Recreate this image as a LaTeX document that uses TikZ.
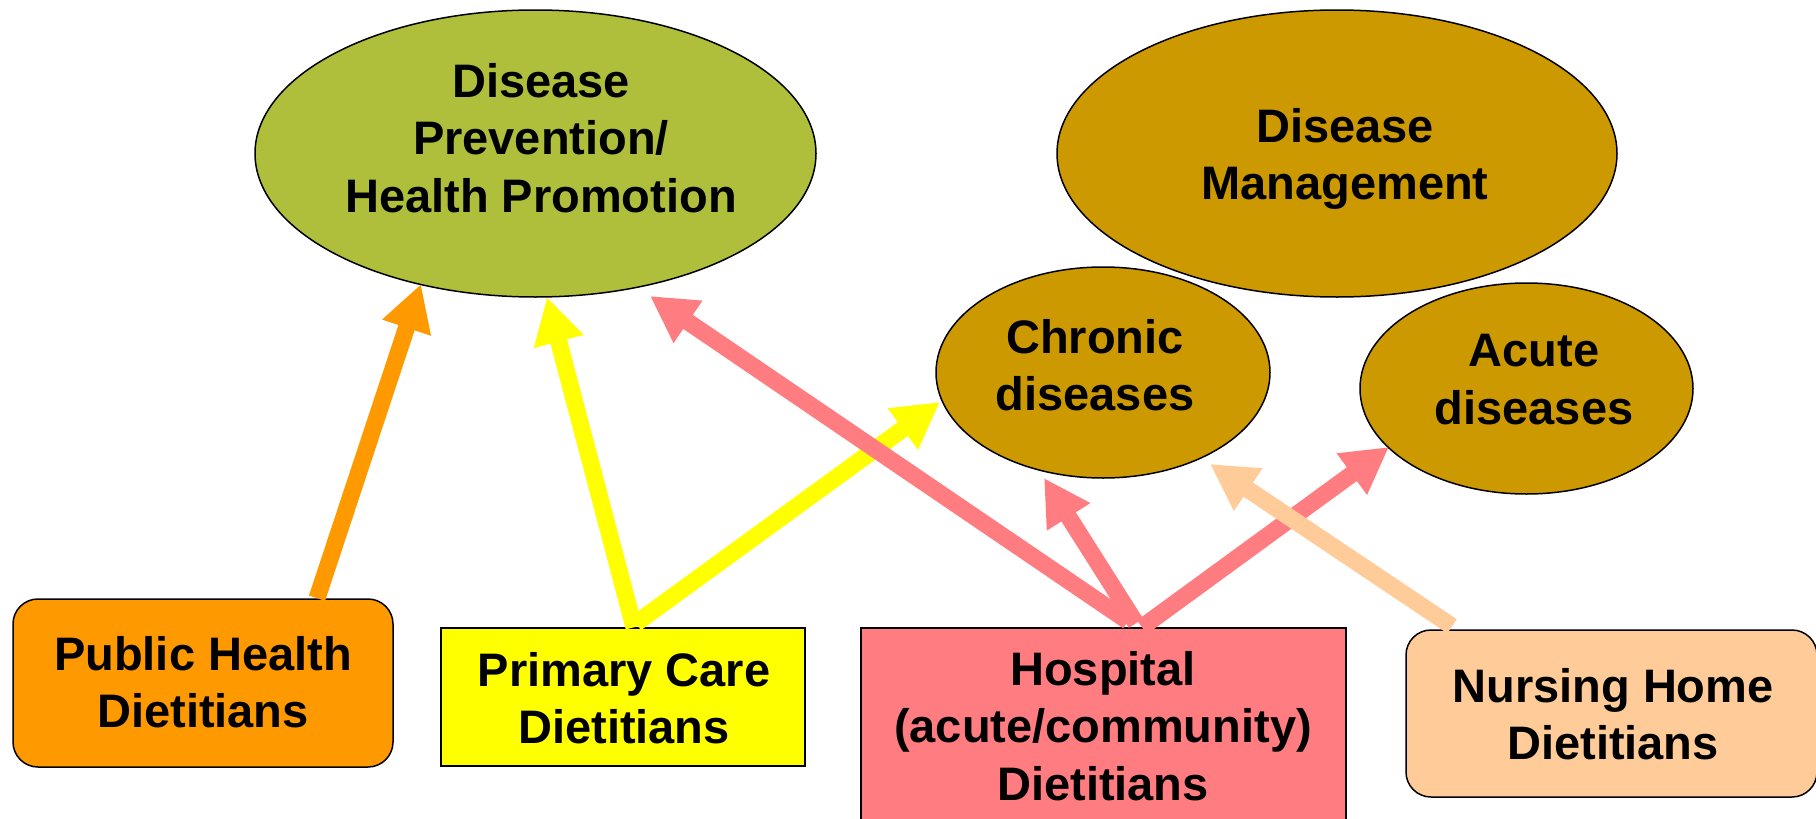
\documentclass[tikz,border=0pt]{standalone}
\usepackage{fontspec}
\setmainfont{Liberation Sans}
\usetikzlibrary{arrows.meta,shapes.geometric,calc}
\definecolor{cgreen}{HTML}{AFBF3B}
\definecolor{cgold}{HTML}{CC9900}
\definecolor{corange}{HTML}{FF9900}
\definecolor{cyellow}{HTML}{FFFF00}
\definecolor{cpink}{HTML}{FF7C80}
\definecolor{cpeach}{HTML}{FFCC99}
\tikzset{
  ell/.style={ellipse, draw=black, line width=1.5pt, inner sep=0pt},
  boxr/.style={rectangle, draw=black, line width=1.5pt, inner sep=0pt},
  lbl/.style={anchor=north, inner sep=0pt, align=center,
    font=\fontsize{47}{57.5}\selectfont\bfseries},
  fat/.style={line width=17pt, -{Triangle[width=48pt,length=46pt]}}
}
\begin{document}
\begin{tikzpicture}[x=1pt,y=-1pt]
\useasboundingbox (0,0) rectangle (1816,819);
% ellipses
\node[ell, fill=cgreen, minimum width=561pt, minimum height=287pt] (prev) at (535.5,153.5) {};
\node[ell, fill=cgold, minimum width=560pt, minimum height=287pt] (dm) at (1337,153.5) {};
\node[ell, fill=cgold, minimum width=334pt, minimum height=211pt] (chr) at (1103,372.5) {};
\node[ell, fill=cgold, minimum width=333pt, minimum height=211pt] (acu) at (1526.5,388.5) {};
% boxes
\node[boxr, fill=corange, rounded corners=25pt, minimum width=380pt, minimum height=168pt] (pub) at (203,683) {};
\node[boxr, fill=cyellow, minimum width=364pt, minimum height=138pt] (prim) at (623,697) {};
\node[boxr, fill=cpink, minimum width=485pt, minimum height=212pt] (hosp) at (1103.5,734) {};
\node[boxr, fill=cpeach, rounded corners=25pt, minimum width=411pt, minimum height=167pt] (nurs) at (1611.5,713.5) {};
% labels
\node[lbl] (prevT) at (541,63) {Disease\\Prevention/\\Health Promotion};
\node[lbl] (dmT) at (1345,108) {Disease\\Management};
\node[lbl] (chrT) at (1095,319) {Chronic\\diseases};
\node[lbl] (acuT) at (1534,334) {Acute\\diseases};
\node[lbl] (pubT) at (203,636) {Public Health\\Dietitians};
\node[lbl] (primT) at (624,652) {Primary Care\\Dietitians};
\node[lbl] (hospT) at (1103,651) {Hospital\\(acute/community)\\Dietitians};
\node[lbl] (nursT) at (1613,668) {Nursing Home\\Dietitians};
% arrows
\draw[fat, draw=corange, fill=corange] ($(pub.north)+(114,0)$) -- ($(prev)+(-114.5,130.5)$);
\draw[fat, draw=cyellow, fill=cyellow] ($(prim.north)+(11,0)$) -- ($(prev)+(11.5,143.5)$);
\draw[fat, draw=cyellow, fill=cyellow] ($(prim.north)+(13,-4)$) -- ($(chr)+(-163,29.5)$);
\draw[fat, draw=cpink, fill=cpink] ($(hosp.north)+(24.5,-6)$) -- ($(prev)+(114.5,142.5)$);
\draw[fat, draw=cpink, fill=cpink] ($(hosp.north)+(32.5,-4)$) -- ($(chr)+(-59,105.5)$);
\draw[fat, draw=cpink, fill=cpink] ($(hosp.north)+(38.5,0)$) -- ($(acu)+(-137.5,58.5)$);
\draw[fat, draw=cpeach, fill=cpeach] ($(nurs.north)+(-159.5,-3)$) -- ($(chr)+(107,91.5)$);
\end{tikzpicture}
\end{document}
